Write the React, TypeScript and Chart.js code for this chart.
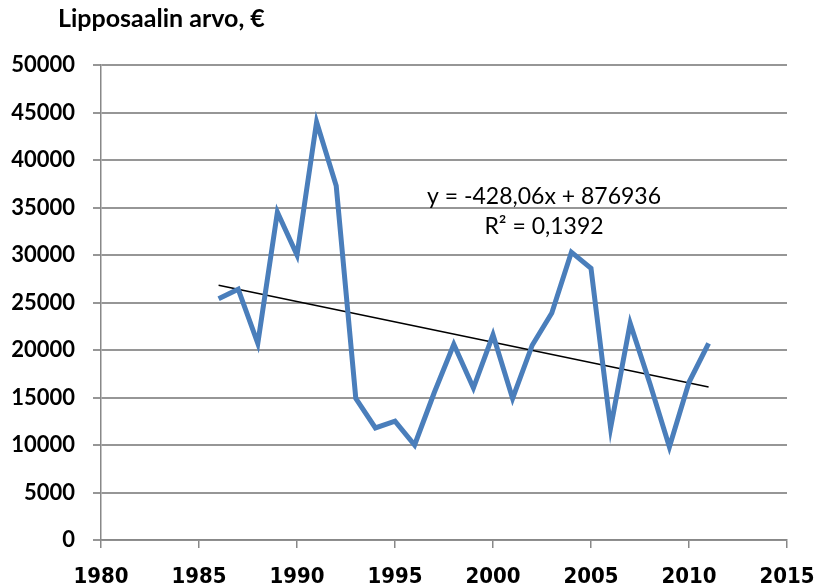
import React, { useEffect, useRef } from "react";
import { Chart, registerables } from "chart.js";

Chart.register(...registerables);

const years = [1986, 1987, 1988, 1989, 1990, 1991, 1992, 1993, 1994, 1995, 1996, 1997, 1998, 1999, 2000, 2001, 2002, 2003, 2004, 2005, 2006, 2007, 2008, 2009, 2010, 2011];
const values = [25400, 26400, 20700, 34500, 30000, 44000, 37300, 14900, 11800, 12500, 10000, 15500, 20600, 16000, 21600, 14900, 20500, 23900, 30300, 28600, 11800, 22800, 16500, 9800, 16600, 20700];
const trendSlope = -428.06;
const trendIntercept = 876936;
const trendYears = [1986, 2011];
const titleText = "Lipposaalin arvo, €";
const equationText = "y = -428,06x + 876936";
const r2Text = "R² = 0,1392";

const overlay = {
  id: "overlay",
  afterDraw(chart: any) {
    const ctx = chart.ctx;
    ctx.save();
    ctx.fillStyle = "#000";
    ctx.textBaseline = "middle";
    ctx.font = "bold 25px Lato, 'Open Sans', sans-serif";
    ctx.textAlign = "left";
    ctx.fillText(titleText, 58, 19);
    ctx.font = "23px Lato, 'Open Sans', sans-serif";
    ctx.textAlign = "center";
    ctx.fillText(equationText, 544, 197);
    ctx.fillText(r2Text, 544, 227);
    ctx.restore();
  },
};

export default function App() {
  const ref = useRef<HTMLCanvasElement>(null);
  useEffect(() => {
    document.body.style.margin = "0";
    const trend = trendYears.map((x) => ({ x, y: trendSlope * x + trendIntercept }));
    const chart = new Chart(ref.current as HTMLCanvasElement, {
      type: "line",
      data: {
        datasets: [
          {
            data: years.map((x, i) => ({ x, y: values[i] })),
            borderColor: "#4a7ebb",
            borderWidth: 5,
            pointRadius: 0,
            tension: 0,
          },
          {
            data: trend,
            borderColor: "#000000",
            borderWidth: 1.5,
            pointRadius: 0,
          },
        ],
      },
      options: {
        animation: false,
        responsive: false,
        layout: { padding: { top: 65, right: 0, left: 0, bottom: 0 } },
        plugins: { legend: { display: false }, tooltip: { enabled: false } },
        scales: {
          x: {
            type: "linear",
            min: 1980,
            max: 2015,
            ticks: {
              stepSize: 5,
              color: "#000",
              padding: 16,
              maxRotation: 0,
              callback: (v: any) => String(v),
              font: { family: "'DejaVu Sans Condensed', 'Liberation Sans Narrow', sans-serif", weight: "bold", size: 22 },
            },
            grid: { drawOnChartArea: false, tickLength: 8, color: "#888", lineWidth: 1.5 },
            border: { color: "#888", width: 1.5 },
            afterFit(scale: any) {
              scale.height = 48;
              scale.paddingRight = 28;
              scale.paddingLeft = 0;
            },
          },
          y: {
            min: 0,
            max: 50000,
            ticks: {
              stepSize: 5000,
              color: "#000",
              padding: 18,
              callback: (v: any) => String(v),
              font: { family: "Lato, 'Open Sans', sans-serif", weight: "bold", size: 22 },
            },
            grid: { color: "#969696", lineWidth: 2, tickLength: 8 },
            border: { color: "#888", width: 1.5 },
            afterFit(scale: any) { scale.width = 101; },
          },
        },
      },
      plugins: [overlay],
    });
    return () => chart.destroy();
  }, []);
  return (
    <div style={{ position: "relative", width: 815, height: 588 }}>
      <canvas ref={ref} width={815} height={588} style={{ display: "block" }} />
    </div>
  );
}
